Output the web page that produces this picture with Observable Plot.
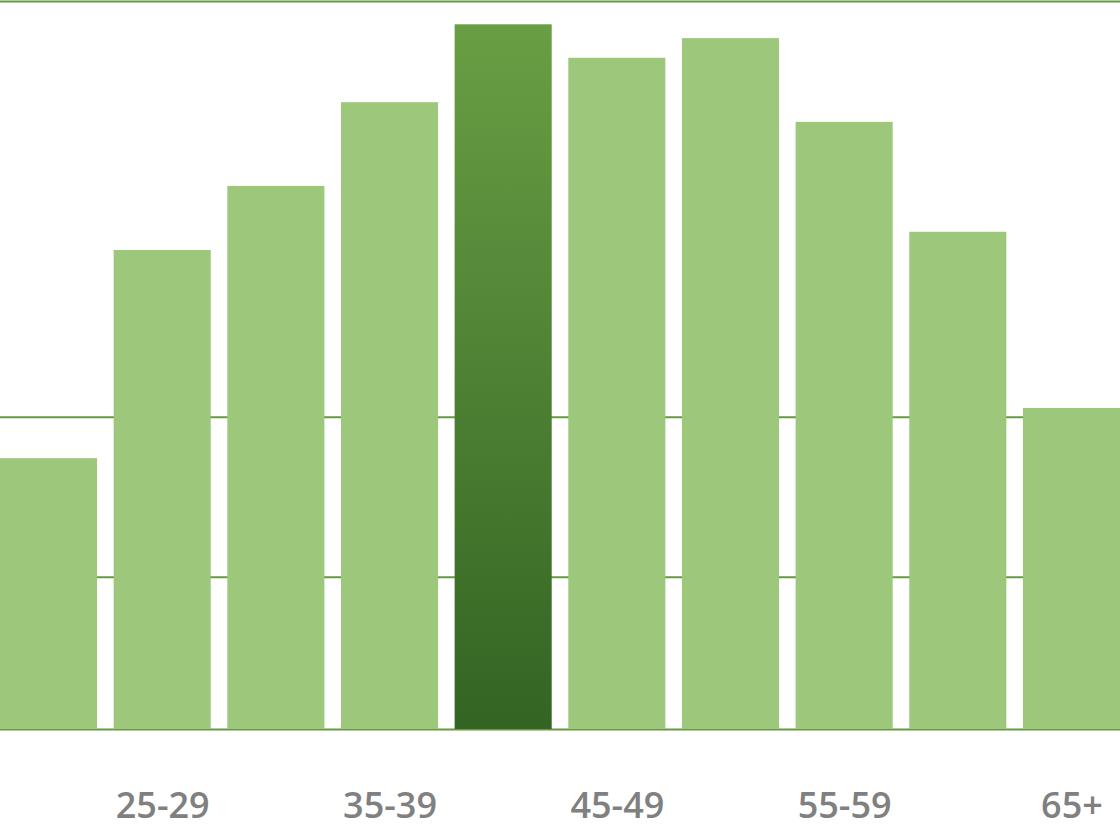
<!DOCTYPE html>
<html>
<head>
<meta charset="utf-8">
<script src="https://cdn.jsdelivr.net/npm/d3@7"></script>
<script src="https://cdn.jsdelivr.net/npm/@observablehq/plot@0.6"></script>
<style>
  html, body { margin: 0; padding: 0; background: #ffffff; }
  #chart svg { display: block; }
</style>
</head>
<body>
<div id="chart"></div>
<script>
// Age groups (categories)
const ageGroups = ["20-24", "25-29", "30-34", "35-39", "40-44", "45-49", "50-54", "55-59", "60-64", "65+"];
// Values (relative units, full scale = 100)
const values = [37.2, 65.8, 74.6, 86.1, 96.8, 92.2, 94.9, 83.4, 68.3, 44.1];
// Highlighted category
const highlight = "40-44";
// Tick labels shown on the x axis
const xTickLabels = ["25-29", "35-39", "45-49", "55-59", "65+"];
// Horizontal grid line values
const gridValues = [0, 20.9, 42.9, 100];

const data = ageGroups.map((age, i) => ({ age, value: values[i] }));

const plot = Plot.plot({
  width: 1120,
  height: 833,
  marginTop: 1,
  marginBottom: 104,
  marginLeft: 0,
  marginRight: 0,
  style: { background: "#ffffff", fontFamily: "'Open Sans', sans-serif" },
  x: { domain: ageGroups, paddingInner: 0.146, paddingOuter: 0, round: false, label: null },
  y: { domain: [0, 100], axis: null },
  marks: [
    Plot.ruleY(gridValues, { stroke: "#659a40", strokeWidth: 2 }),
    Plot.barY(data, {
      x: "age",
      y: "value",
      fill: d => d.age === highlight ? "url(#hlGrad)" : "#9dc77b"
    }),
    Plot.axisX({
      ticks: xTickLabels,
      tickSize: 0,
      tickPadding: 63,
      fontSize: 36,
      fontWeight: 600,
      fill: "#808080",
      label: null
    })
  ]
});

// gradient for the highlighted bar
const ns = "http://www.w3.org/2000/svg";
const defs = document.createElementNS(ns, "defs");
const grad = document.createElementNS(ns, "linearGradient");
grad.setAttribute("id", "hlGrad");
grad.setAttribute("x1", "0"); grad.setAttribute("y1", "0");
grad.setAttribute("x2", "0"); grad.setAttribute("y2", "1");
[["0%", "#6a9e44"], ["100%", "#336423"]].forEach(([o, c]) => {
  const s = document.createElementNS(ns, "stop");
  s.setAttribute("offset", o);
  s.setAttribute("stop-color", c);
  grad.appendChild(s);
});
defs.appendChild(grad);
plot.insertBefore(defs, plot.firstChild);

document.getElementById("chart").appendChild(plot);
</script>
</body>
</html>
